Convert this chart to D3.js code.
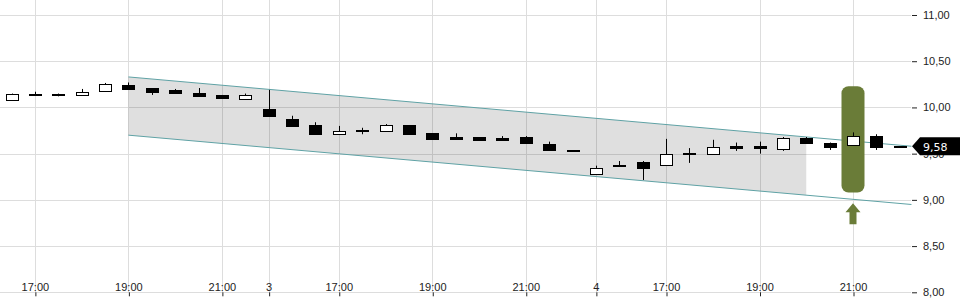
<!DOCTYPE html>
<html>
<head>
<meta charset="utf-8">
<script src="https://cdn.jsdelivr.net/npm/d3@7"></script>
<style>
  body { margin: 0; background: #fff; }
  svg { display: block; font-family: "DejaVu Sans", sans-serif; }
</style>
</head>
<body>
<script>
// half-hour candles, 3 sessions
var open  = [10.08,10.15,10.15,10.14,10.175,10.24,10.21,10.19,10.155,10.135,10.09,
             9.98,9.875,9.81,9.71,9.755,9.74,9.81,9.72,9.68,9.68,9.67,9.68,9.60,9.54,
             9.28,9.38,9.41,9.385,9.50,9.49,9.58,9.58,9.55,9.67,9.62,9.59,9.69,9.58];
var high  = [10.15,10.17,10.15,10.20,10.265,10.27,10.21,10.20,10.21,10.135,10.15,
             10.19,9.91,9.84,9.80,9.78,9.82,9.81,9.72,9.72,9.68,9.69,9.69,9.63,9.54,
             9.37,9.42,9.42,9.66,9.56,9.65,9.62,9.63,9.68,9.68,9.62,9.73,9.71,9.58];
var low   = [10.08,10.13,10.12,10.14,10.175,10.20,10.135,10.16,10.125,10.10,10.09,
             9.90,9.80,9.71,9.71,9.71,9.74,9.71,9.66,9.66,9.64,9.64,9.61,9.54,9.54,
             9.28,9.36,9.215,9.375,9.40,9.49,9.53,9.50,9.53,9.62,9.54,9.59,9.54,9.58];
var close = [10.15,10.14,10.14,10.17,10.25,10.20,10.17,10.16,10.125,10.10,10.135,
             9.90,9.80,9.71,9.74,9.74,9.81,9.71,9.66,9.66,9.65,9.65,9.61,9.54,9.54,
             9.34,9.375,9.34,9.50,9.51,9.57,9.56,9.555,9.67,9.62,9.58,9.69,9.575,9.58];

var tickIndex  = [1,5,9,11,14,18,22,25,28,32,36];
var tickLabels = ["17:00","19:00","21:00","3","17:00","19:00","21:00","4","17:00","19:00","21:00"];
var yTicks = [8, 8.5, 9, 9.5, 10, 10.5, 11];

// trend channel (candle index, price)
var channelIdx   = [5, 38.5];
var channelUpper = [10.33, 9.58];
var channelLower = [9.70, 8.95];
var channelFillEnd = 34;

// signal marker
var signalIdx = 36;
var signalRange = [9.08, 10.23];

var width = 960, height = 300;
var plotRight = 911;

var x = d3.scaleLinear().domain([0, 36]).range([11.5, 853]);
var y = d3.scaleLinear().domain([8, 11]).range([292.3, 15]);

var fmt = function(v) { return d3.format(".2f")(v).replace(".", ","); };

var svg = d3.select("body").append("svg")
    .attr("width", width)
    .attr("height", height);

// grid
var grid = svg.append("g").attr("class", "grid");
grid.selectAll("line.h")
    .data(yTicks)
  .enter().append("line")
    .attr("class", "h")
    .attr("x1", 0).attr("x2", plotRight)
    .attr("y1", function(d) { return Math.round(y(d)) + 0.5; })
    .attr("y2", function(d) { return Math.round(y(d)) + 0.5; })
    .style("stroke", "#dddddd");
grid.selectAll("line.v")
    .data(tickIndex)
  .enter().append("line")
    .attr("class", "v")
    .attr("y1", 0).attr("y2", y(8))
    .attr("x1", function(d) { return Math.round(x(d)) + 0.5; })
    .attr("x2", function(d) { return Math.round(x(d)) + 0.5; })
    .style("stroke", "#dddddd");

// channel
function lerp(arr, i) {
  var t = (i - channelIdx[0]) / (channelIdx[1] - channelIdx[0]);
  return arr[0] + t * (arr[1] - arr[0]);
}
var fillPts = [
  [channelIdx[0], channelUpper[0]],
  [channelFillEnd, lerp(channelUpper, channelFillEnd)],
  [channelFillEnd, lerp(channelLower, channelFillEnd)],
  [channelIdx[0], channelLower[0]]
];
svg.append("path")
    .datum(fillPts)
    .attr("d", d3.line().x(function(d) { return x(d[0]); }).y(function(d) { return y(d[1]); }))
    .style("fill", "#000")
    .style("fill-opacity", 0.125)
    .style("stroke", "none");

[channelUpper, channelLower].forEach(function(c) {
  svg.append("line")
      .attr("x1", x(channelIdx[0])).attr("y1", y(c[0]))
      .attr("x2", x(channelIdx[1])).attr("y2", y(c[1]))
      .style("stroke", "#5fa2a5")
      .style("stroke-width", 1);
});

// signal highlight + arrow
var sx = x(signalIdx);
svg.append("rect")
    .attr("x", sx - 11.5)
    .attr("y", y(signalRange[1]))
    .attr("width", 23)
    .attr("height", y(signalRange[0]) - y(signalRange[1]))
    .attr("rx", 7).attr("ry", 7)
    .style("fill", "#6a7c38");

var tipY = y(channelLower[0] + (signalIdx - channelIdx[0]) / (channelIdx[1] - channelIdx[0]) * (channelLower[1] - channelLower[0])) + 4;
svg.append("path")
    .attr("d", "M" + sx + "," + tipY +
               "L" + (sx + 7.5) + "," + (tipY + 9) +
               "L" + (sx + 3.5) + "," + (tipY + 9) +
               "L" + (sx + 3.5) + "," + (tipY + 21) +
               "L" + (sx - 3.5) + "," + (tipY + 21) +
               "L" + (sx - 3.5) + "," + (tipY + 9) +
               "L" + (sx - 7.5) + "," + (tipY + 9) + "Z")
    .style("fill", "#6a7c38");

// candles
var candles = svg.append("g").attr("class", "candles")
  .selectAll("g")
    .data(d3.range(open.length))
  .enter().append("g");

candles.append("line")
    .attr("x1", function(i) { return Math.round(x(i)) + 0.5; })
    .attr("x2", function(i) { return Math.round(x(i)) + 0.5; })
    .attr("y1", function(i) { return y(high[i]); })
    .attr("y2", function(i) { return y(low[i]); })
    .style("stroke", "#000");

candles.append("rect")
    .attr("x", function(i) { return Math.round(x(i)) - 5.5; })
    .attr("width", 12)
    .attr("y", function(i) { return Math.round(y(Math.max(open[i], close[i]))) + 0.5; })
    .attr("height", function(i) {
      return Math.max(1, Math.round(y(Math.min(open[i], close[i])) - y(Math.max(open[i], close[i]))));
    })
    .style("fill", function(i) { return close[i] > open[i] ? "#fff" : "#000"; })
    .style("stroke", "#000")
    .style("stroke-width", 1);

// axes
var yAxis = svg.append("g")
    .attr("transform", "translate(" + (plotRight + 1) + ",0)")
    .call(d3.axisRight(y).tickValues(yTicks).tickFormat(fmt).tickSize(5).tickPadding(6));
yAxis.select(".domain").remove();
yAxis.selectAll("text").style("font-size", "11px").style("fill", "#222");
yAxis.selectAll("line").style("stroke", "#222");

var xAxis = svg.append("g")
    .attr("transform", "translate(0," + y(8) + ")")
    .call(d3.axisBottom(x).tickValues(tickIndex)
      .tickFormat(function(d, i) { return tickLabels[i]; })
      .tickSize(4));
xAxis.select(".domain").remove();
xAxis.selectAll("line")
    .attr("transform", "translate(0.5,0)")
    .style("stroke", "#222");
xAxis.selectAll("text")
    .attr("y", -1.5).attr("dy", 0)
    .style("font-size", "11px").style("fill", "#222");

// last price tag
var last = close[close.length - 1];
var ly = y(last);
svg.append("path")
    .attr("d", "M" + (plotRight + 1) + "," + ly +
               "L" + (plotRight + 9) + "," + (ly - 9) +
               "L" + width + "," + (ly - 9) +
               "L" + width + "," + (ly + 9) +
               "L" + (plotRight + 9) + "," + (ly + 9) + "Z")
    .style("fill", "#000");
svg.append("text")
    .attr("x", 923)
    .attr("y", ly + 4.5)
    .style("font-size", "11px")
    .style("fill", "#fff")
    .text(fmt(last));
</script>
</body>
</html>
